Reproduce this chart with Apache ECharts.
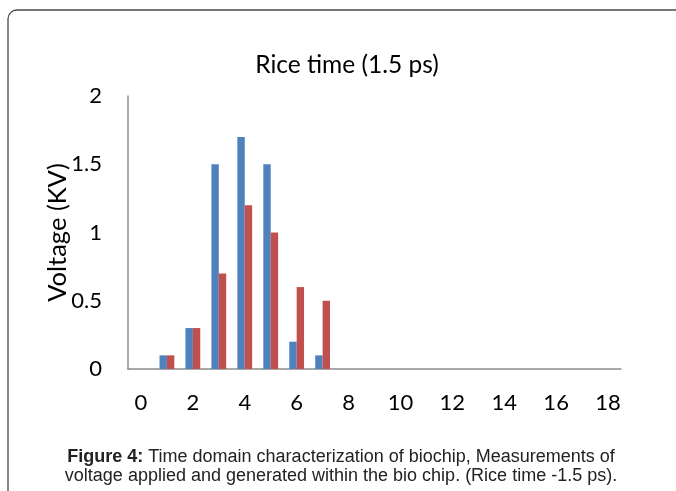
<!DOCTYPE html>
<html>
<head>
<meta charset="utf-8">
<script src="https://cdn.jsdelivr.net/npm/echarts@6/dist/echarts.min.js"></script>
<style>
  html, body { margin: 0; padding: 0; background: #ffffff; }
  #chart { width: 676px; height: 491px; }
</style>
</head>
<body>
<div id="chart"></div>
<script>
// Rise-time pulse measurement: voltage per time step
const timeSteps = ['0','1','2','3','4','5','6','7','8','9','10','11','12','13','14','15','16','17','18'];
const appliedVoltage   = [null, 0.1, 0.3, 1.5, 1.7, 1.5, 0.2, 0.1, null, null, null, null, null, null, null, null, null, null, null];
const generatedVoltage = [null, 0.1, 0.3, 0.7, 1.2, 1.0, 0.6, 0.5, null, null, null, null, null, null, null, null, null, null, null];
const voltageTicks = [0, 0.5, 1, 1.5, 2];

const chartFont = 'Lato, "Open Sans", sans-serif';
const captionFont = '"Liberation Sans", Arial, sans-serif';

const chart = echarts.init(document.getElementById('chart'), null, { renderer: 'canvas' });

chart.setOption({
  animation: false,
  backgroundColor: '#ffffff',
  title: [
    {
      text: 'Rice time (1.5 ps)',
      left: 342,
      top: 48,
      textAlign: 'center',
      textStyle: { fontFamily: chartFont, fontSize: 24.5, fontWeight: 'normal', color: '#000' }
    },
    {
      text: '{b|Figure 4:} Time domain characterization of biochip, Measurements of\nvoltage applied and generated within the bio chip. (Rice time -1.5 ps).',
      left: 336,
      top: 443,
      textAlign: 'center',
      textStyle: {
        fontFamily: captionFont, fontSize: 18, fontWeight: 'normal', color: '#222', lineHeight: 19, align: 'center',
        rich: { b: { fontFamily: captionFont, fontSize: 18, fontWeight: 'bold', color: '#222', lineHeight: 19 } }
      }
    }
  ],
  graphic: [
    {
      type: 'rect',
      shape: { x: 8, y: 10, width: 720, height: 540, r: 9 },
      style: { fill: 'none', stroke: '#4a4a4a', lineWidth: 1.3 },
      silent: true,
      z: -1
    }
  ],
  grid: { left: 128, right: 55, top: 96, bottom: 122, containLabel: false },
  xAxis: {
    type: 'category',
    data: timeSteps,
    axisLine: { show: true, lineStyle: { color: '#8c8c8c', width: 1.5 } },
    axisTick: { show: false },
    axisLabel: { interval: 1, margin: 23, fontFamily: chartFont, fontSize: 22, color: '#000' }
  },
  yAxis: {
    type: 'value',
    min: 0,
    max: 2,
    interval: 0.5,
    name: 'Voltage (KV)',
    nameLocation: 'middle',
    nameGap: 57,
    nameMoveOverlap: false,
    nameTextStyle: { fontFamily: chartFont, fontSize: 25.5, color: '#000' },
    axisLine: { show: true, lineStyle: { color: '#8c8c8c', width: 1.5 } },
    axisTick: { show: false },
    splitLine: { show: false },
    axisLabel: {
      margin: 26,
      fontFamily: chartFont, fontSize: 22, color: '#000',
      formatter: v => (voltageTicks.includes(v) ? String(v) : '')
    }
  },
  series: [
    {
      name: 'Applied',
      type: 'bar',
      data: appliedVoltage,
      barGap: '0%',
      barCategoryGap: '43%',
      itemStyle: { color: '#4F81BD' }
    },
    {
      name: 'Generated',
      type: 'bar',
      data: generatedVoltage,
      barGap: '0%',
      barCategoryGap: '43%',
      itemStyle: { color: '#C0504D' }
    }
  ]
});
</script>
</body>
</html>
